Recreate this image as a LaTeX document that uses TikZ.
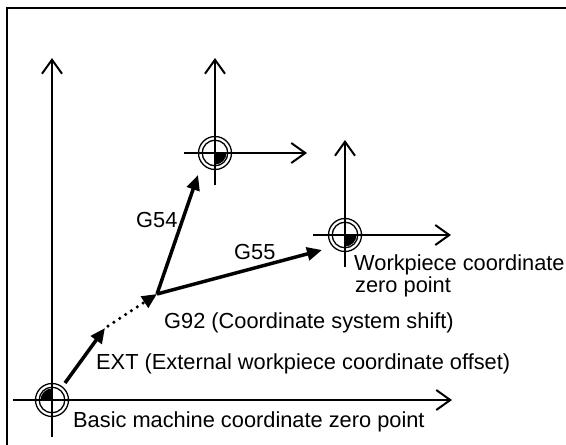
\documentclass[tikz,border=0pt]{standalone}
\usepackage{fontspec}
\setmainfont{Liberation Sans}
\usetikzlibrary{arrows.meta}
\begin{document}
\begin{tikzpicture}[x=1pt,y=-1pt,
  axis/.style={line width=2pt,-{Straight Barb[length=14pt,width=20pt]}},
  vec/.style={line width=3.5pt,-{Triangle[length=15pt,width=13pt]}},
  dotvec/.style={line width=3.5pt,line cap=round,dash pattern=on 0pt off 7pt,-{Triangle[length=15pt,width=13pt]}},
  lbl/.style={anchor=base west,inner sep=0pt,font=\fontsize{21.8}{26}\selectfont},
  ring/.style={line width=1.3pt},
  frame/.style={line width=2pt}]
\useasboundingbox (0,0) rectangle (566,445);
% frame
\draw[frame] (7,445) -- (7,8) -- (566,8);
% origins
\coordinate (O) at (52,400);
\coordinate (W1) at (215,153);
\coordinate (W2) at (345,235);
\coordinate (E) at (105,328);
\coordinate (Ed) at (108,326);
\coordinate (S) at (157,294);
\coordinate (Es) at (65,383);
\coordinate (T54) at (198,175);
\coordinate (T55) at (322,250);
% basic machine axes
\draw[axis] ([yshift=-37pt]O) -- ([yshift=342pt]O);
\draw[axis] ([xshift=-39pt]O) -- ([xshift=400pt]O);
\fill ([xshift=-11.5pt]O) arc[start angle=180,end angle=90,radius=11.5pt] -- (O) -- cycle;
\draw[ring] (O) circle[radius=12.8pt] (O) circle[radius=16.5pt];
% workpiece 1 (G54)
\draw[axis] ([yshift=-32pt]W1) -- ([yshift=95pt]W1);
\draw[axis] ([xshift=-31pt]W1) -- ([xshift=92pt]W1);
\fill ([xshift=11.5pt]W1) arc[start angle=0,end angle=-90,radius=11.5pt] -- (W1) -- cycle;
\draw[ring] (W1) circle[radius=12.8pt] (W1) circle[radius=16.5pt];
% workpiece 2 (G55)
\draw[axis] ([yshift=-32pt]W2) -- ([yshift=95pt]W2);
\draw[axis] ([xshift=-32pt]W2) -- ([xshift=106pt]W2);
\fill ([xshift=11.5pt]W2) arc[start angle=0,end angle=-90,radius=11.5pt] -- (W2) -- cycle;
\draw[ring] (W2) circle[radius=12.8pt] (W2) circle[radius=16.5pt];
% vectors
\draw[vec] (Es) -- (E);
\draw[dotvec] (Ed) -- (S);
\draw[vec] (S) -- (T54);
\draw[vec] (S) -- (T55);
% labels
\node[lbl] (lbasic) at (73,427) {Basic machine coordinate zero point};
\node[lbl] (lext) at (96,369) {EXT (External workpiece coordinate offset)};
\node[lbl] (lg92) at (164,328) {G92 (Coordinate system shift)};
\node[lbl] (lwp1) at (354,270) {Workpiece coordinate};
\node[lbl] (lwp2) at (355,292) {zero point};
\node[lbl] (lg54) at (136,227) {G54};
\node[lbl] (lg55) at (234,259) {G55};
\end{tikzpicture}
\end{document}
